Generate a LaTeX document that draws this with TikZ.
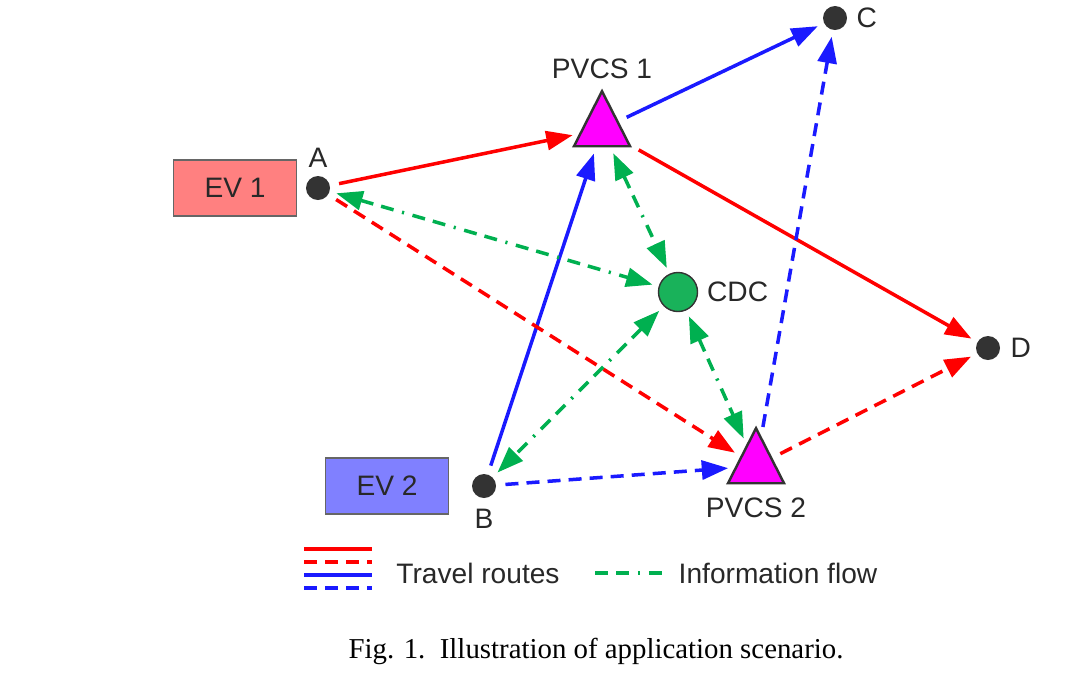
\documentclass[tikz,border=0pt]{standalone}
\usepackage{fontspec}
\setmainfont{Liberation Sans}
\newfontfamily\captionserif{Liberation Serif}
\usepackage{tikz}
\usetikzlibrary{shapes.geometric,arrows.meta,positioning}

\definecolor{evred}{RGB}{255,128,128}
\definecolor{evblue}{RGB}{128,128,255}
\definecolor{routeblue}{RGB}{26,26,255}
\definecolor{infogreen}{RGB}{0,176,80}
\definecolor{cdcgreen}{RGB}{25,178,90}
\definecolor{dotgray}{RGB}{51,51,51}
\definecolor{txtgray}{RGB}{40,40,40}
\definecolor{pvcsmagenta}{RGB}{255,0,255}

\begin{document}
\begin{tikzpicture}[x=0.01cm, y=-0.01cm, font=\fontsize{8}{9.6}\selectfont, text=txtgray]
			\tikzstyle{Stop}	= [circle, fill=dotgray, minimum size=2.4mm, inner sep=0pt]
			\tikzstyle{PVCS}	= [isosceles triangle, isosceles triangle stretches, shape border rotate=90, minimum width=5.6mm, minimum height=5.5mm, inner sep=0pt, draw=dotgray, line width=0.7pt, fill=pvcsmagenta]
			\tikzstyle{CDC}		= [circle, draw=dotgray, fill=cdcgreen, minimum size=3.9mm, inner sep=0pt, line width=0.4pt]
			\tikzstyle{EV}		= [rectangle, draw=black!60, minimum width=12.3mm, minimum height=5.6mm]
			\tikzstyle{Route}	= [line width=1pt, -{Triangle[length=7.5pt, width=5.4pt]}, shorten >=1.8pt, shorten <=2.5pt]
			\tikzstyle{Planned}	= [Route, dash pattern=on 3.7pt off 2.3pt]
			\tikzstyle{Info}	= [line width=1pt, infogreen, dash pattern=on 3.7pt off 2.3pt on 3.7pt off 2.5pt on 0.6pt off 2.5pt, {Triangle[length=7.5pt, width=5.4pt]}-{Triangle[length=7.5pt, width=5.4pt]}, shorten >=1.8pt, shorten <=1.8pt]
			
			\useasboundingbox (0,0) rectangle (1067,672);
			
			\node (ev1) at (235,188) [EV][fill=evred] {EV 1};
			\node (a) at (318,188) [Stop][label={[label distance=-1.2pt]above:A}] {};
			\node (pvcs1) at (602,88) [PVCS][anchor=apex][label={[label distance=-0.8pt]above:PVCS 1}] {};
			\node (c) at (835,18) [Stop][label={[label distance=-1pt]right:C}] {};
			\node (cdc) at (678,292) [CDC][label={[label distance=-1pt]right:CDC}] {};
			\node (d) at (988,348) [Stop][label={[label distance=-0.7pt]right:D}] {};
			\node (pvcs2) at (756,425) [PVCS][anchor=apex][label={[label distance=0.2pt]below:PVCS 2}] {};
			\node (b) at (484,486) [Stop][label={[label distance=-0.7pt]below:B}] {};
			\node (ev2) at (387,486) [EV][fill=evblue] {EV 2};
			
			\draw [Route] (a) to (pvcs1) [red];
			\draw [Route] (pvcs1) to (c) [routeblue];
			\draw [Route] (pvcs1) to (d) [red];
			\draw [Route] (b) to (pvcs1) [routeblue];
			\draw [Planned] (a) to (pvcs2) [red];
			\draw [Planned] (b) to (pvcs2) [routeblue];
			\draw [Planned] (pvcs2) to (c) [routeblue];
			\draw [Planned] (pvcs2) to (d) [red];
			\draw [Info] (a) to (cdc);
			\draw [Info] (pvcs1) to (cdc);
			\draw [Info] (cdc) to (b);
			\draw [Info] (cdc) to (pvcs2);
			
			% legend
			\coordinate (l1) at (304,549); \coordinate (l1e) at (372,549);
			\coordinate (l2) at (304,562); \coordinate (l2e) at (372,562);
			\coordinate (l3) at (304,575); \coordinate (l3e) at (372,575);
			\coordinate (l4) at (304,588); \coordinate (l4e) at (372,588);
			\coordinate (l5) at (595,573); \coordinate (l5e) at (665,573);
			\draw (l1) -- (l1e) [line width=1pt, red];
			\draw (l2) -- (l2e) [line width=1pt, red, dash pattern=on 3.7pt off 2.3pt];
			\draw (l3) -- (l3e) [line width=1pt, routeblue];
			\draw (l4) -- (l4e) [line width=1pt, routeblue, dash pattern=on 3.7pt off 2.3pt];
			\draw (l5) -- (l5e) [line width=1pt, infogreen, dash pattern=on 3.7pt off 2.3pt on 3.7pt off 2.5pt on 0.6pt off 2.5pt];
			\node (travel) at (478,573) {Travel routes};
			\node (info) at (778,573) {Information flow};
			
			\node (caption) at (596,651) [font=\captionserif\fontsize{8.2}{10}\selectfont, text=black] {Fig. 1.\ \ Illustration of application scenario.};
		\end{tikzpicture}
\end{document}
